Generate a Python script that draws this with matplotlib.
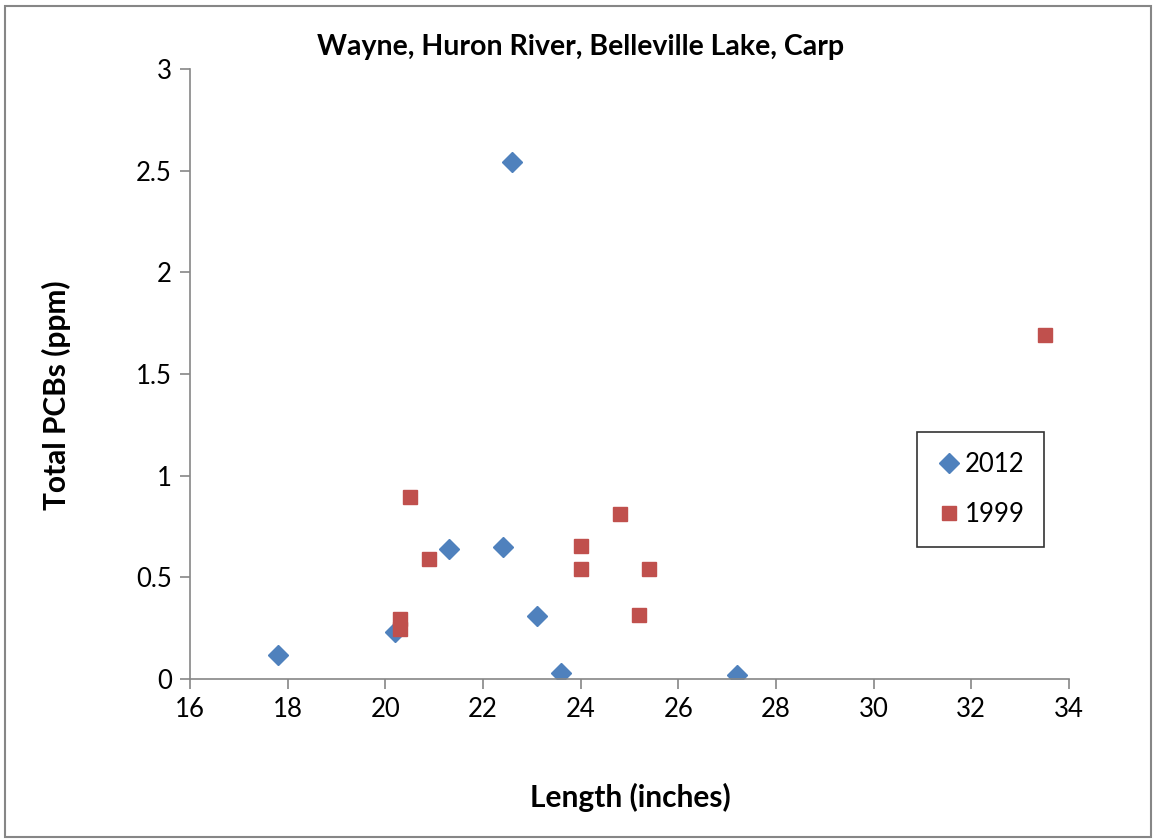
import matplotlib.pyplot as plt
from matplotlib.patches import Rectangle

plt.rcParams['font.family'] = ['Lato', 'DejaVu Sans']

# 2012 samples
len_2012 = [17.8, 20.2, 21.3, 22.4, 22.6, 23.1, 23.6, 27.2]
pcb_2012 = [0.12, 0.23, 0.64, 0.65, 2.54, 0.31, 0.03, 0.02]

# 1999 samples
len_1999 = [20.5, 20.9, 20.3, 20.3, 24.0, 24.0, 24.8, 25.4, 25.2, 33.5]
pcb_1999 = [0.895, 0.59, 0.295, 0.246, 0.654, 0.541, 0.81, 0.541, 0.315, 1.69]

fig = plt.figure(figsize=(11.56, 8.4), dpi=100)
ax = fig.add_axes([0.1644, 0.1917, 0.7603, 0.7262])

ax.plot(len_2012, pcb_2012, linestyle='none', marker='D', markersize=10.5,
        color='#4F81BD', label='2012')
ax.plot(len_1999, pcb_1999, linestyle='none', marker='s', markersize=10.5,
        color='#C0504D', label='1999')

ax.set_xlim(16, 34)
ax.set_ylim(0, 3)
ax.set_xticks(range(16, 35, 2))
ax.set_yticks([0, 0.5, 1, 1.5, 2, 2.5, 3])
ax.set_yticklabels(['0', '0.5', '1', '1.5', '2', '2.5', '3'])

for side in ['top', 'right']:
    ax.spines[side].set_visible(False)
for side in ['left', 'bottom']:
    ax.spines[side].set_color('#868686')
    ax.spines[side].set_linewidth(1.2)
ax.tick_params(direction='out', length=7, width=1.2, color='#868686',
               labelsize=18.5, pad=6)

# titles placed in figure coords
fig.text(0.502, 0.944, 'Wayne, Huron River, Belleville Lake, Carp', fontsize=20.5,
         fontweight='bold', ha='center', va='center')
fig.text(0.545, 0.051, 'Length (inches)', fontsize=21.5, fontweight='bold',
         ha='center', va='center')
fig.text(0.049, 0.53, 'Total PCBs (ppm)', fontsize=21.5, fontweight='bold',
         ha='center', va='center', rotation=90)

leg = ax.legend(loc='center', bbox_to_anchor=(0.8482, 0.4173),
                bbox_transform=fig.transFigure, fontsize=18.5, frameon=True,
                fancybox=False, edgecolor='black', handletextpad=0.1,
                labelspacing=1.0, borderpad=0.75, handlelength=1.0,
                borderaxespad=0)
leg.get_frame().set_linewidth(1.2)

fig.patches.append(Rectangle((0.004, 0.003), 0.992, 0.99, transform=fig.transFigure,
                             fill=False, edgecolor='#868686', linewidth=1.5))

fig.savefig('out.png', dpi=100)
